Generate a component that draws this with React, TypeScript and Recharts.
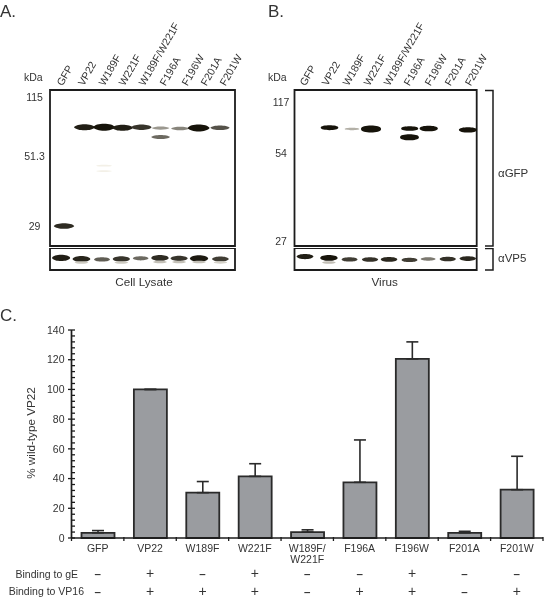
import React from "react";
import { BarChart, Bar, ErrorBar, XAxis, YAxis, ScatterChart, Scatter, ReferenceArea } from "recharts";

const FONT = "'Liberation Sans', Arial, sans-serif";
const INK = "#333333";
const FRAME = "#1c1c1c";

// Panel C
const categories = ["GFP", "VP22", "W189F", "W221F", "W189F/W221F", "F196A", "F196W", "F201A", "F201W"];
const percentWildType = [3.5, 100, 30.5, 41.5, 4, 37.5, 120.5, 3.5, 32.5];
const errorUp = [1.5, 0, 7.5, 8.5, 1.5, 28.5, 11.5, 1, 22.5];
const bindingGE = ["–", "+", "–", "+", "–", "–", "+", "–", "–"];
const bindingVP16 = ["–", "+", "+", "+", "–", "+", "+", "–", "+"];
const percentTicks = [0, 4, 8, 12, 16, 20, 24, 28, 32, 36, 40, 44, 48, 52, 56, 60, 64, 68, 72, 76, 80, 84, 88, 92, 96, 100, 104, 108, 112, 116, 120, 124, 128, 132, 136, 140];

// Blot lane labels: position across the gel (lane units)
const labelLanesA = [0.34, 1.37, 2.38, 3.36, 4.33, 5.35, 6.42, 7.35, 8.27];
const labelLanesB = [0.27, 1.36, 2.4, 3.43, 4.42, 5.41, 6.45, 7.44, 8.43];

// Marker ladders: relative migration (% of gel) and labels
const markerRfA = [5.1, 42.9, 87.2];
const markerKdaA = ["115", "51.3", "29"];
const markerRfB = [8.3, 41, 97.4];
const markerKdaB = ["117", "54", "27"];

// Band tables: lane position, relative migration, signal
const lanesA = [0.68, 1.68, 2.63, 3.53, 4.45, 5.38, 5.38, 6.33, 7.23, 8.27, 2.63, 2.63];
const rfA = [87.2, 23.9, 23.9, 24.2, 23.9, 24.4, 30.1, 24.7, 24.4, 24.2, 48.5, 52];
const signalA = [0.75, 0.85, 1, 0.85, 0.7, 0.28, 0.45, 0.35, 1, 0.55, 0.01, 0.01];

const lanesALow = [0.54, 1.53, 2.53, 3.47, 4.41, 5.35, 6.28, 7.25, 8.29, 1.53, 3.47, 5.35, 6.28, 7.25, 8.29];
const rfALow = [45, 50, 52, 50, 47, 45, 47, 48, 50, 66, 66, 64, 64, 64, 66];
const signalALow = [0.85, 0.8, 0.5, 0.7, 0.45, 0.75, 0.7, 0.9, 0.65, 0.12, 0.12, 0.15, 0.15, 0.15, 0.1];

const lanesB = [1.73, 2.84, 3.78, 5.69, 5.68, 6.63, 8.57];
const rfB = [24.2, 25, 25, 24.7, 30.3, 24.7, 25.6];
const signalB = [0.6, 0.1, 1, 0.5, 0.8, 0.7, 0.7];

const lanesBLow = [0.52, 1.7, 2.72, 3.73, 4.67, 5.68, 6.6, 7.57, 8.56, 1.7];
const rfBLow = [39, 45, 52, 52, 52, 54, 50, 50, 48, 66];
const signalBLow = [0.65, 0.75, 0.5, 0.55, 0.6, 0.5, 0.3, 0.55, 0.6, 0.12];

const toBands = (lanes: number[], rf: number[], signal: number[]) =>
  lanes.map((lane, i) => ({ lane, rf: rf[i], signal: signal[i] }));

const chartRows = categories.map((name, i) => ({
  name,
  value: percentWildType[i],
  err: [0, errorUp[i]],
  ge: bindingGE[i],
  vp16: bindingVP16[i],
}));

const bandShape = (gain: number, baseHalf: number, blunt: number) => (props: any) => {
  const { cx, cy, payload } = props;
  const s: number = payload.signal;
  const dark = Math.min(1, s * gain);
  const halfW = baseHalf + 3 * s;
  const halfH = 0.9 + 2.5 * s;
  const v = Math.round(22 + 225 * Math.pow(1 - dark, 1.6));
  const fill = `rgb(${v},${v - 3},${Math.max(0, v - 12)})`;
  const k = halfW * blunt;
  const d = `M${cx - halfW},${cy} C${cx - k},${cy - halfH * 1.35} ${cx + k},${cy - halfH * 1.35} ${cx + halfW},${cy} C${cx + k},${cy + halfH * 1.35} ${cx - k},${cy + halfH * 1.35} ${cx - halfW},${cy} Z`;
  return <path d={d} fill={fill} style={{ filter: "blur(0.6px)" }} />;
};

const laneTick = (labels: string[]) => (props: any) => {
  const { x, y, index } = props;
  const tx = x + 5.5;
  const ty = y - 3.5;
  return (
    <text x={tx} y={ty} transform={`rotate(-60 ${tx} ${ty})`} fontFamily={FONT} fontSize={10.5} fill={INK} textAnchor="start">
      {labels[index]}
    </text>
  );
};

const kdaTick = (labels: string[], cx: number) => (props: any) => {
  const { y, index } = props;
  return (
    <text x={cx} y={y + 3.5} fontFamily={FONT} fontSize={10.5} fill={INK} textAnchor="middle">
      {labels[index]}
    </text>
  );
};

const Blot = ({ data, gain, half, blunt, left, top, w, h, frameLeft, frameRight, children, labelLanes, markerRf, markerKda, markerX, gelTop, gelBottom }: any) => (
  <div style={{ position: "absolute", left, top }}>
    <ScatterChart width={w} height={h} margin={{ top: labelLanes ? 0 : gelTop, left: markerRf ? 0 : frameLeft, right: frameRight, bottom: gelBottom }}>
      <XAxis
        type="number"
        dataKey="lane"
        domain={[0, 9]}
        orientation="top"
        height={labelLanes ? gelTop : 0}
        hide={!labelLanes}
        ticks={labelLanes}
        interval={0}
        axisLine={false}
        tickLine={false}
        tickSize={0}
        tickMargin={0}
        tick={labelLanes ? laneTick(categories) : false}
      />
      <YAxis
        type="number"
        dataKey="rf"
        domain={[0, 100]}
        reversed
        width={markerRf ? frameLeft : 0}
        hide={!markerRf}
        ticks={markerRf}
        interval={0}
        axisLine={false}
        tickLine={false}
        tickSize={0}
        tick={markerRf ? kdaTick(markerKda, markerX) : false}
      />
      <ReferenceArea x1={0} x2={9} y1={0} y2={100} fill="#ffffff" fillOpacity={0} stroke={FRAME} strokeWidth={1.8} ifOverflow="visible" />
      <Scatter data={data} isAnimationActive={false} shape={bandShape(gain, half, blunt)} />
      {children}
    </ScatterChart>
  </div>
);

const label = (x: number, y: number, t: string, size = 10.5, anchor = "start") => (
  <text x={x} y={y} fontFamily={FONT} fontSize={size} fill={INK} textAnchor={anchor as any}>
    {t}
  </text>
);

const PercentTick = (props: any) => {
  const { x, y, payload } = props;
  const major = payload.value % 20 === 0;
  return (
    <g>
      <line x1={major ? x - 3.5 : x} x2={x + 3.5} y1={y} y2={y} stroke={FRAME} strokeWidth={1.3} />
      {major && (
        <text x={x - 7} y={y + 3.7} fontFamily={FONT} fontSize={10.5} fill={INK} textAnchor="end">
          {payload.value}
        </text>
      )}
    </g>
  );
};

const STEP = 52.4;
const signMark = (x: number, y: number, sign: string) => (
  <text x={x} y={y} fontFamily={FONT} fontSize={sign === "+" ? 14 : 11.5} fontWeight={sign === "+" ? 400 : 700} fill={INK} textAnchor="middle">
    {sign}
  </text>
);
const CategoryTick = (props: any) => {
  const { x, y, index, payload } = props;
  const row = chartRows[index];
  const parts = String(payload.value).includes("/") ? ["W189F/", "W221F"] : [payload.value];
  return (
    <g>
      <line x1={x - STEP / 2} x2={x - STEP / 2} y1={y - 1} y2={y + 3} stroke={FRAME} strokeWidth={1.3} />
      {index === categories.length - 1 && <line x1={x + STEP / 2} x2={x + STEP / 2} y1={y - 1} y2={y + 3} stroke={FRAME} strokeWidth={1.3} />}
      {parts.map((p: string, i: number) => (
        <text key={p} x={x} y={y + 13.5 + i * 11.5} fontFamily={FONT} fontSize={10.5} fill={INK} textAnchor="middle">
          {p}
        </text>
      ))}
      {signMark(x, y + 40, row.ge)}
      {signMark(x, y + 57.5, row.vp16)}
    </g>
  );
};

export default function App() {
  return (
    <div style={{ position: "absolute", left: 0, top: 0, width: 544, height: 599, background: "#fff", overflow: "hidden", filter: "blur(0.3px)" }}>
      <Blot
        data={toBands(lanesA, rfA, signalA)}
        gain={1}
        half={8}
        blunt={0.75}
        left={0}
        top={0}
        w={262}
        h={280}
        frameLeft={50}
        frameRight={27}
        gelTop={90}
        gelBottom={34}
        labelLanes={labelLanesA}
        markerRf={markerRfA}
        markerKda={markerKdaA}
        markerX={34.5}
      >
        {label(0, 16.5, "A.", 17)}
        {label(24, 81, "kDa")}
      </Blot>
      <Blot
        data={toBands(lanesALow, rfALow, signalALow)}
        gain={1}
        half={6.5}
        blunt={0.85}
        left={0}
        top={248}
        w={262}
        h={50}
        frameLeft={50}
        frameRight={27}
        gelTop={0}
        gelBottom={28}
      >
        {label(144, 37.5, "Cell Lysate", 11.7, "middle")}
      </Blot>
      <Blot
        data={toBands(lanesB, rfB, signalB)}
        gain={2}
        half={7}
        blunt={1.05}
        left={262}
        top={0}
        w={282}
        h={280}
        frameLeft={32.5}
        frameRight={67.3}
        gelTop={90}
        gelBottom={34}
        labelLanes={labelLanesB}
        markerRf={markerRfB}
        markerKda={markerKdaB}
        markerX={19}
      >
        {label(6, 16.5, "B.", 17)}
        {label(6, 81, "kDa")}
        <path d="M223,90.5 H231 V246 H223" fill="none" stroke={FRAME} strokeWidth={1.5} />
        {label(236, 177, "αGFP", 11.5)}
      </Blot>
      <Blot
        data={toBands(lanesBLow, rfBLow, signalBLow)}
        gain={1.3}
        half={6.5}
        blunt={0.9}
        left={262}
        top={248}
        w={282}
        h={50}
        frameLeft={32.5}
        frameRight={67.3}
        gelTop={0}
        gelBottom={28}
      >
        <path d="M223,0.5 H231 V22 H223" fill="none" stroke={FRAME} strokeWidth={1.5} />
        {label(236, 14, "αVP5", 11.5)}
        {label(122.7, 37.5, "Virus", 11.7, "middle")}
      </Blot>
      <div style={{ position: "absolute", left: 0, top: 300 }}>
        <BarChart width={544} height={299} data={chartRows} margin={{ top: 30, right: 1, bottom: 0, left: 0 }} barCategoryGap={0}>
          <XAxis dataKey="name" height={61} interval={0} axisLine={{ stroke: FRAME, strokeWidth: 1.7 }} tickLine={false} tickSize={0} tickMargin={0} tick={<CategoryTick />} />
          <YAxis
            type="number"
            domain={[0, 140]}
            ticks={percentTicks}
            interval={0}
            width={71.5}
            axisLine={{ stroke: FRAME, strokeWidth: 1.7 }}
            tickLine={false}
            tickSize={0}
            tickMargin={0}
            tick={<PercentTick />}
          />
          <Bar dataKey="value" barSize={33} fill="#9a9ca0" stroke="#2a2a2a" strokeWidth={1.8} isAnimationActive={false}>
            <ErrorBar dataKey="err" direction="y" width={6} stroke="#2a2a2a" strokeWidth={1.6} isAnimationActive={false} />
          </Bar>
          {label(0, 20.5, "C.", 17)}
          <text x={35} y={133} transform="rotate(-90 35 133)" fontFamily={FONT} fontSize={11.7} fill={INK} textAnchor="middle">
            % wild-type VP22
          </text>
          {label(78, 278, "Binding to gE", 10.5, "end")}
          {label(84, 295, "Binding to VP16", 10.5, "end")}
        </BarChart>
      </div>
    </div>
  );
}
